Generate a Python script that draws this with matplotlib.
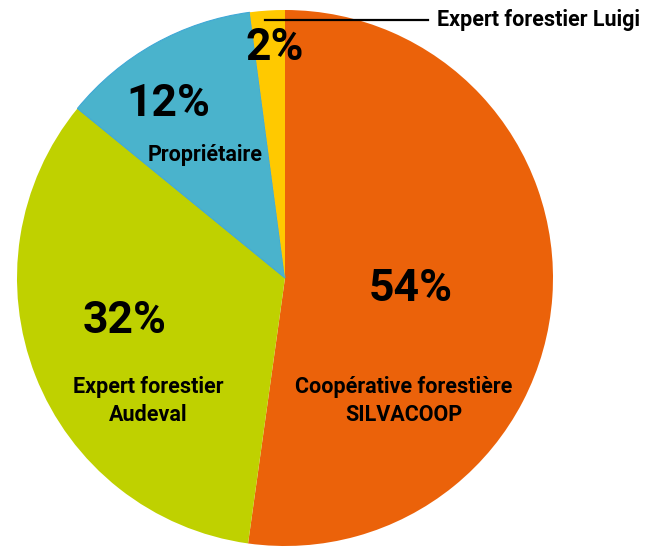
import matplotlib.pyplot as plt

# slices, clockwise from 12 o'clock (sizes as drawn, labels as printed)
shares = [52.2, 33.7, 12.0, 2.1]
pct_labels = ["54%", "32%", "12%", "2%"]
names = ["Coopérative forestière\nSILVACOOP", "Expert forestier\nAudeval", "Propriétaire", "Expert forestier Luigi"]
colors = ["#EB620A", "#BFD100", "#4AB3CC", "#FFC900"]

W, H = 672, 547
fig = plt.figure(figsize=(W / 100, H / 100), dpi=100)

# pie centre (285, 278) px, radius 268 px
cx, cy, r = 285, 278, 268
ax = fig.add_axes([(cx - r) / W, (H - cy - r) / H, 2 * r / W, 2 * r / H])
wedges, _ = ax.pie(shares, colors=colors, startangle=90, counterclock=False,
                   wedgeprops=dict(linewidth=0))
# thin darker rim on the blue slice, as in the original
wedges[2].set_edgecolor("#3FA8D6")
wedges[2].set_linewidth(0.8)
ax.set_aspect("equal")
ax.set_xlim(-1, 1)
ax.set_ylim(-1, 1)


def px(x, y):
    return x / W, 1 - y / H


pct_font = dict(family="Roboto", weight="bold", size=32, color="black")
lab_font = dict(family="Roboto", weight="bold", size=15.5, color="black", linespacing=1.3)

# percent labels
pct_pos = [(411, 289), (125, 321), (168, 104), (275, 48)]
for t, (x, y) in zip(pct_labels, pct_pos):
    fig.text(*px(x, y), t, ha="center", va="center", **pct_font)

# category labels
lab_pos = [(404, 401), (148, 401), (205, 155)]
for n, (x, y) in zip(names[:3], lab_pos):
    fig.text(*px(x, y), n, ha="center", va="center", **lab_font)

# leader line for the small slice
fig.add_artist(plt.Line2D([265 / W, 428 / W], [1 - 20 / H, 1 - 20 / H], color="black", lw=1.6))
fig.text(*px(437, 20), names[3], ha="left", va="center", **lab_font)

plt.savefig("out.png", dpi=100)
plt.close()
